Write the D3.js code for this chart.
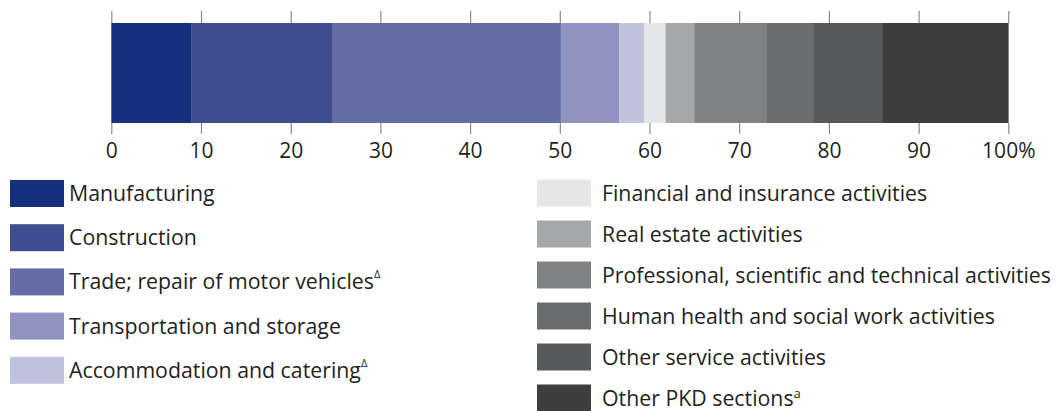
<!DOCTYPE html>
<html><head><meta charset="utf-8">
<script src="https://cdn.jsdelivr.net/npm/d3@7"></script>
<style>
body{margin:0;background:#fff;}
text{font-family:"Open Sans",sans-serif;fill:#231f20;}
</style></head>
<body><svg id="chart" width="1059" height="411"></svg>
<script>
const categories = ["Manufacturing","Construction","Trade; repair of motor vehicles","Transportation and storage","Accommodation and catering","Financial and insurance activities","Real estate activities","Professional, scientific and technical activities","Human health and social work activities","Other service activities","Other PKD sections"];
const superscripts = ["","","Δ","","Δ","","","","","","a"];
const values = [8.9,15.7,25.5,6.5,2.8,2.4,3.2,8.1,5.2,7.7,14.0];
const colors = ["#15317e","#404e91","#666ca6","#8f93c0","#bfc3de","#e5e6e8","#a6a7aa","#808184","#6b6c70","#58595b","#3e3e3f"];
const tickValues = [0,10,20,30,40,50,60,70,80,90,100];
const tickLabels = ["0","10","20","30","40","50","60","70","80","90","100%"];

const svg = d3.select("#chart");
const x = d3.scaleLinear().domain([0,100]).range([111.3,1008.3]);
const barTop = 23, barH = 100;

let cum = 0;
const segs = values.map((v,i)=>{const s={start:cum,end:cum+v,i};cum+=v;return s;});

const gTop = svg.append("g").attr("transform",`translate(0,${barTop})`)
  .call(d3.axisTop(x).tickValues(tickValues).tickSize(12).tickFormat(""));
const gBot = svg.append("g").attr("transform",`translate(0,${barTop+barH})`)
  .call(d3.axisBottom(x).tickValues(tickValues).tickSize(11).tickPadding(9)
    .tickFormat((d,i)=>tickLabels[i]));
[gTop,gBot].forEach(g=>{
  g.select(".domain").remove();
  g.selectAll(".tick line").attr("stroke","#8a8a8c").attr("stroke-width",1.2);
});
gBot.selectAll(".tick text").attr("font-size",21).attr("font-family","Open Sans").attr("fill","#231f20");

svg.append("g").selectAll("rect").data(segs).join("rect")
  .attr("x",d=>x(d.start)).attr("width",d=>x(d.end)-x(d.start)+0.3)
  .attr("y",barTop).attr("height",barH).attr("fill",d=>colors[d.i]);

const leftIdx=[0,1,2,3,4], rightIdx=[5,6,7,8,9,10];
function legendItem(g, i, sx, sy, tx, sw){
  g.append("rect").attr("x",sx).attr("y",sy).attr("width",sw).attr("height",27).attr("fill",colors[i]);
  const t = g.append("text").attr("x",tx).attr("y",sy+21).attr("font-size",21.3).text(categories[i]);
  if(superscripts[i]){
    const d = superscripts[i]==="Δ";
    t.append("tspan").attr("font-size",d?11:13).attr("dy",d?-11:-8).text(superscripts[i]);
  }
}
const lg = svg.append("g");
leftIdx.forEach((i,k)=>legendItem(lg,i,10,180+k*44.2,69,54));
rightIdx.forEach((i,k)=>legendItem(lg,i,537,179.5+k*41,602,54));
</script></body></html>
